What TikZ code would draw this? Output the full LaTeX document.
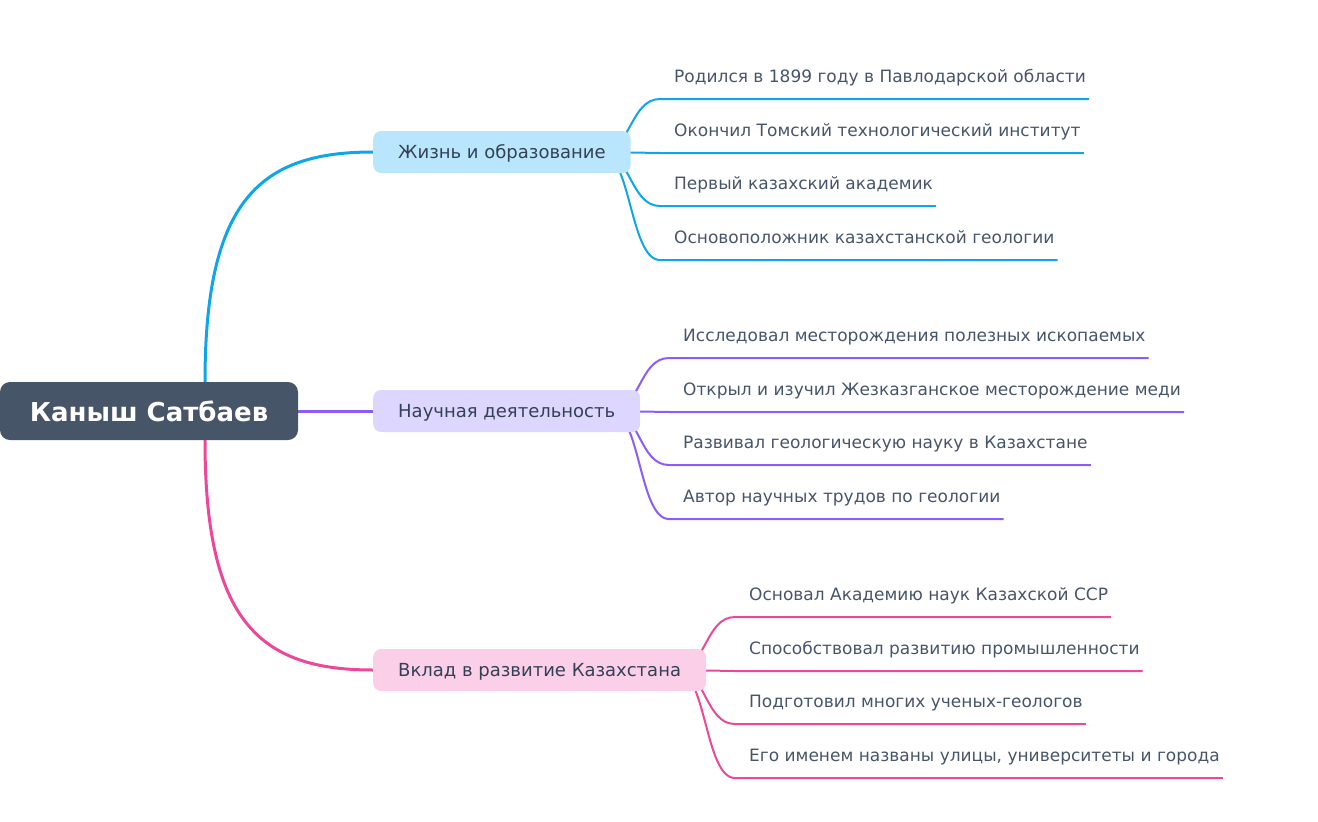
\documentclass[tikz,border=0pt]{standalone}
\usepackage{fontspec}
\setmainfont{DejaVu Sans}
\usepackage{tikz}
\usetikzlibrary{backgrounds}
\definecolor{rootfill}{RGB}{71,85,105}
\definecolor{leaftext}{RGB}{71,85,105}
\definecolor{brtext}{RGB}{51,65,85}
\definecolor{myblue}{RGB}{14,165,233}
\definecolor{mypurple}{RGB}{139,92,246}
\definecolor{mypink}{RGB}{236,72,153}
\definecolor{hdrblue}{RGB}{186,230,253}
\definecolor{hdrpurple}{RGB}{221,214,254}
\definecolor{hdrpink}{RGB}{251,207,232}
\tikzset{
  rootnode/.style={rectangle, fill=rootfill, text=white, rounded corners=10pt,
    minimum width=298pt, minimum height=58pt, inner sep=0pt,
    font=\fontsize{26}{30}\selectfont\bfseries},
  branch/.style={rectangle, anchor=west, rounded corners=8pt,
    minimum height=42pt, inner xsep=25pt, inner ysep=0pt, text=brtext,
    text height=13pt, text depth=0pt, font=\fontsize{18}{22}\selectfont},
  leaf/.style={anchor=south west, inner xsep=0pt, inner ysep=0pt,
    text depth=16pt, text=leaftext, font=\fontsize{17}{20}\selectfont,
    execute at begin node={\hspace*{14pt}}, execute at end node={\hspace*{3pt}}},
  mainlink/.style={line width=3pt},
  leaflink/.style={line width=2pt}
}
\begin{document}
\begin{tikzpicture}[x=1pt, y=-1pt]
  \useasboundingbox (0,0) rectangle (1318,822);

  % Root
  \node[rootnode] (root) at (149,411) {Каныш Сатбаев};

  % Branches
  \node[branch, fill=hdrblue] (life) at (373,152) {Жизнь и образование};
  \node[branch, fill=hdrpurple] (science) at (373,411) {Научная деятельность};
  \node[branch, fill=hdrpink] (contrib) at (373,670) {Вклад в развитие Казахстана};

  % Leaves of life
  \node[leaf] (l1) at (660,99) {Родился в 1899 году в Павлодарской области};
  \node[leaf] (l2) at (660,153) {Окончил Томский технологический институт};
  \node[leaf] (l3) at (660,206) {Первый казахский академик};
  \node[leaf] (l4) at (660,260) {Основоположник казахстанской геологии};

  % Leaves of science
  \node[leaf] (s1) at (669,358) {Исследовал месторождения полезных ископаемых};
  \node[leaf] (s2) at (669,412) {Открыл и изучил Жезказганское месторождение меди};
  \node[leaf] (s3) at (669,465) {Развивал геологическую науку в Казахстане};
  \node[leaf] (s4) at (669,519) {Автор научных трудов по геологии};

  % Leaves of contrib
  \node[leaf] (c1) at (735,617) {Основал Академию наук Казахской ССР};
  \node[leaf] (c2) at (735,671) {Способствовал развитию промышленности};
  \node[leaf] (c3) at (735,724) {Подготовил многих ученых-геологов};
  \node[leaf] (c4) at (735,778) {Его именем названы улицы, университеты и города};

  \begin{scope}[on background layer]
    % Root to branches
    \draw[mainlink, myblue] ([xshift=56pt]root.north) .. controls +(0,-182) and +(-113,0) .. (life.west);
    \draw[mainlink, mypurple] (root.east) -- (science.west);
    \draw[mainlink, mypink] ([xshift=56pt]root.south) .. controls +(0,182) and +(-113,0) .. (contrib.west);

    % Life to leaves
    \draw[leaflink, myblue] ([xshift=-30pt]life.east) .. controls +(30,0) and +(-30,0) .. (l1.south west) -- (l1.south east);
    \draw[leaflink, myblue] ([xshift=-30pt]life.east) .. controls +(30,0) and +(-30,0) .. (l2.south west) -- (l2.south east);
    \draw[leaflink, myblue] ([xshift=-30pt]life.east) .. controls +(30,0) and +(-30,0) .. (l3.south west) -- (l3.south east);
    \draw[leaflink, myblue] ([xshift=-30pt]life.east) .. controls +(30,0) and +(-30,0) .. (l4.south west) -- (l4.south east);

    % Science to leaves
    \draw[leaflink, mypurple] ([xshift=-30pt]science.east) .. controls +(30,0) and +(-30,0) .. (s1.south west) -- (s1.south east);
    \draw[leaflink, mypurple] ([xshift=-30pt]science.east) .. controls +(30,0) and +(-30,0) .. (s2.south west) -- (s2.south east);
    \draw[leaflink, mypurple] ([xshift=-30pt]science.east) .. controls +(30,0) and +(-30,0) .. (s3.south west) -- (s3.south east);
    \draw[leaflink, mypurple] ([xshift=-30pt]science.east) .. controls +(30,0) and +(-30,0) .. (s4.south west) -- (s4.south east);

    % Contrib to leaves
    \draw[leaflink, mypink] ([xshift=-30pt]contrib.east) .. controls +(30,0) and +(-30,0) .. (c1.south west) -- (c1.south east);
    \draw[leaflink, mypink] ([xshift=-30pt]contrib.east) .. controls +(30,0) and +(-30,0) .. (c2.south west) -- (c2.south east);
    \draw[leaflink, mypink] ([xshift=-30pt]contrib.east) .. controls +(30,0) and +(-30,0) .. (c3.south west) -- (c3.south east);
    \draw[leaflink, mypink] ([xshift=-30pt]contrib.east) .. controls +(30,0) and +(-30,0) .. (c4.south west) -- (c4.south east);
  \end{scope}
\end{tikzpicture}
\end{document}
